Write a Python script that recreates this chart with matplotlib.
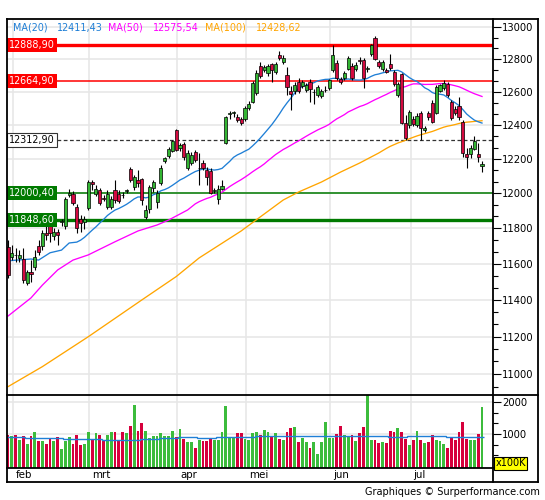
import numpy as np
import matplotlib
matplotlib.use('Agg')
import matplotlib.pyplot as plt
import matplotlib.transforms as mtransforms
from matplotlib.ticker import FixedLocator, NullFormatter, FuncFormatter
from matplotlib.lines import Line2D

# ---------------- data ----------------
opens = [11695, 11638, 11651, 11633, 11627, 11494, 11555, 11583, 11700, 11700,
         11773, 11813, 11756, 11779, 11834, 11813, 11990, 11996, 11922, 11853,
         11836, 11916, 12065, 11996, 12019, 11970, 11922, 11922, 12019, 11996,
         11992, 12011, 12141, 12036, 12077, 12083, 11864, 11910, 12031, 11950,
         12060, 12188, 12217, 12247, 12371, 12265, 12288, 12147, 12176, 12241,
         12145, 12176, 12135, 12129, 12011, 11968, 12025, 12294, 12464, 12470,
         12449, 12437, 12437, 12503, 12539, 12593, 12758, 12733, 12715, 12770,
         12721, 12826, 12783, 12703, 12605, 12605, 12660, 12636, 12611, 12660,
         12597, 12581, 12575, 12609, 12624, 12733, 12777, 12678, 12684, 12740,
         12758, 12740, 12798, 12795, 12737, 12832, 12931, 12783, 12740, 12733,
         12770, 12721, 12581, 12709, 12413, 12401, 12437, 12401, 12473, 12371,
         12473, 12533, 12473, 12605, 12624, 12648, 12539, 12497, 12515, 12419,
         12229, 12229, 12259, 12229, 12159]
closes = [11538, 11660, 11647, 11649, 11510, 11555, 11544, 11638, 11666, 11773,
          11762, 11773, 11779, 11762, 11838, 11968, 12002, 11945, 11802, 11830,
          11853, 12065, 12054, 12025, 11945, 11965, 11996, 11968, 11962, 11956,
          11988, 12016, 12077, 12094, 12060, 11962, 11904, 12036, 12065, 12002,
          12147, 12206, 12259, 12306, 12253, 12282, 12212, 12235, 12223, 12194,
          12149, 12147, 12094, 12002, 12016, 12025, 12042, 12449, 12470, 12476,
          12431, 12413, 12503, 12527, 12654, 12715, 12697, 12752, 12758, 12733,
          12770, 12807, 12807, 12630, 12587, 12642, 12605, 12660, 12642, 12617,
          12601, 12630, 12605, 12613, 12672, 12826, 12684, 12660, 12715, 12807,
          12684, 12764, 12792, 12684, 12743, 12887, 12801, 12758, 12783, 12721,
          12746, 12648, 12648, 12413, 12324, 12479, 12407, 12455, 12383, 12383,
          12449, 12419, 12630, 12642, 12654, 12581, 12443, 12473, 12449, 12235,
          12212, 12265, 12306, 12212, 12171]
highs = [11734, 11706, 11689, 11677, 11689, 11566, 11622, 11677, 11734, 11790,
         11836, 11830, 11802, 11796, 11853, 11979, 12025, 12013, 11939, 11876,
         11870, 12077, 12077, 12048, 12031, 11990, 12019, 11985, 12077, 12019,
         12008, 12025, 12153, 12106, 12135, 12089, 11933, 12048, 12077, 12019,
         12165, 12212, 12270, 12312, 12377, 12294, 12300, 12253, 12241, 12253,
         12235, 12194, 12153, 12147, 12031, 12048, 12077, 12455, 12485, 12485,
         12467, 12449, 12515, 12545, 12666, 12733, 12783, 12764, 12770, 12777,
         12783, 12850, 12826, 12752, 12636, 12660, 12684, 12672, 12654, 12678,
         12617, 12642, 12617, 12636, 12678, 12887, 12795, 12690, 12727, 12820,
         12777, 12783, 12813, 12807, 12758, 12893, 12943, 12795, 12795, 12746,
         12832, 12733, 12660, 12715, 12461, 12491, 12455, 12473, 12485, 12395,
         12485, 12551, 12642, 12648, 12672, 12660, 12551, 12515, 12569, 12431,
         12265, 12282, 12335, 12294, 12188]
lows = [11521, 11622, 11611, 11611, 11494, 11483, 11499, 11566, 11649, 11677,
        11734, 11723, 11734, 11706, 11813, 11796, 11979, 11933, 11773, 11779,
        11796, 11904, 12019, 11985, 11933, 11956, 11910, 11910, 11945, 11945,
        11973, 12002, 12065, 12019, 12036, 11933, 11853, 11887, 12008, 11916,
        12048, 12176, 12206, 12241, 12247, 12247, 12194, 12135, 12165, 12182,
        12048, 12135, 12048, 11996, 12002, 11939, 12019, 12288, 12437, 12449,
        12419, 12401, 12425, 12491, 12533, 12581, 12684, 12721, 12697, 12660,
        12709, 12795, 12770, 12581, 12491, 12587, 12593, 12624, 12599, 12539,
        12527, 12569, 12563, 12599, 12611, 12721, 12672, 12648, 12672, 12733,
        12672, 12727, 12770, 12624, 12721, 12820, 12795, 12746, 12727, 12715,
        12733, 12636, 12569, 12407, 12312, 12383, 12395, 12389, 12312, 12359,
        12431, 12413, 12467, 12599, 12611, 12569, 12431, 12461, 12431, 12212,
        12147, 12206, 12253, 12182, 12124]
volumes = [980, 950, 980, 820, 950, 700, 950, 1070, 770, 770,
           700, 840, 770, 920, 540, 770, 920, 700, 980, 650,
           700, 1070, 840, 1020, 980, 770, 980, 1070, 1070, 770,
           1070, 1040, 1260, 1920, 1100, 1350, 1100, 880, 950, 930,
           1030, 930, 950, 1100, 920, 1160, 840, 740, 740, 560,
           820, 770, 770, 880, 820, 820, 1070, 1890, 910, 910,
           1030, 1020, 840, 800, 1030, 1070, 980, 1140, 1070, 930,
           1030, 840, 800, 1070, 1190, 1220, 740, 880, 740, 560,
           740, 385, 740, 1385, 880, 880, 1010, 1260, 980, 950,
           980, 770, 1030, 1220, 2300, 800, 800, 720, 740, 720,
           1100, 1070, 1180, 1050, 840, 670, 820, 1100, 800, 720,
           740, 980, 820, 770, 700, 550, 910, 800, 1050, 1365,
           840, 800, 800, 1010, 1830]
# weekly average volume (one value per 5 sessions)
vol_avg = [896, 870, 865, 850, 835, 823, 800, 850, 880, 906, 880, 900, 917,
           935, 948, 948, 948, 948, 950, 940, 920, 948, 935, 910, 910]

# moving averages: values read before the first full window
ma20_head_idx = [0, 6, 8, 11, 14, 16, 18]
ma20_head = [11616, 11626, 11620, 11661, 11676, 11716, 11721]
ma50_head_idx = [0, 6, 9, 13, 17, 21, 28, 34, 39, 42, 47]
ma50_head = [11311, 11410, 11481, 11565, 11620, 11649, 11723, 11784, 11818, 11846, 11904]
ma100_head_idx = [0, 9, 21, 35, 44, 50, 61, 72, 76, 82, 87, 92, 97]
ma100_head = [10933, 11039, 11199, 11399, 11528, 11632, 11784, 11961, 12007, 12065,
              12123, 12176, 12235]
ma_names = ['MA(20)', 'MA(50)', 'MA(100)']
ma_last = [12411.43, 12575.54, 12428.62]

level_values = [12888.90, 12664.90, 12312.90, 12000.40, 11848.60]

month_labels = ['feb', 'mrt', 'apr', 'mei', 'jun', 'jul']
month_start = [1, 21, 44, 62, 84, 105]

price_ticks = list(range(11000, 13001, 200))
vol_ticks = [1000, 2000]

# ---------------- styling ----------------
C_UP = '#3cbc3c'
C_DN = '#d6003c'
C_MA = ['#1f7fd6', '#ff00ff', '#ffa500']
GRID = '#e6e6e6'

W, H = 545, 500
fig = plt.figure(figsize=(W / 100, H / 100), dpi=100)


def fx(px):
    return px / W


def fy(py):
    return 1 - py / H


L, R = 7, 493
T_MAIN, B_MAIN, B_VOL = 19, 395, 468
ax = fig.add_axes([fx(L), fy(B_MAIN), (R - L) / W, (B_MAIN - T_MAIN) / H])
axv = fig.add_axes([fx(L), fy(B_VOL), (R - L) / W, (B_VOL - B_MAIN) / H])

n = len(closes)
x = np.arange(n)
o = np.array(opens, float)
c = np.array(closes, float)
h = np.array(highs, float)
lo = np.array(lows, float)
up = c >= o

s = (482 - 8) / (n - 1)
xl = (-(8 - L) / s, (n - 1) + (R - 482) / s)

# ---- main price panel ----
ax.set_yscale('log')
ymax = 13000 * np.exp((27 - T_MAIN) / 2077)
ymin = 13000 * np.exp(-(B_MAIN - 27) / 2077)
ax.set_ylim(ymin, ymax)
ax.set_xlim(*xl)

for v in price_ticks:
    ax.axhline(v, color=GRID, lw=1.1, zorder=0)
for m in month_start:
    ax.axvline(m + 0.3, color=GRID, lw=1.1, zorder=0)
    axv.axvline(m + 0.3, color=GRID, lw=1.1, zorder=0)

# levels
ax.axhline(level_values[0], color='#ff0000', lw=2.4, zorder=2)
ax.axhline(level_values[1], color='#ff0000', lw=1.1, zorder=2)
ax.axhline(level_values[2], color='#333333', lw=0.9, ls=(0, (3, 2)), zorder=2)
ax.axhline(level_values[3], color='#007a00', lw=1.1, zorder=2)
ax.axhline(level_values[4], color='#007a00', lw=2.4, zorder=2)

# moving averages
def rolling(vals, w):
    a = np.asarray(vals, float)
    cs = np.cumsum(np.insert(a, 0, 0.0))
    return (cs[w:] - cs[:-w]) / w

for heads_idx, heads, w, col in [(ma100_head_idx, ma100_head, 100, C_MA[2]),
                                 (ma50_head_idx, ma50_head, 50, C_MA[1]),
                                 (ma20_head_idx, ma20_head, 20, C_MA[0])]:
    comp = rolling(closes, w)
    xs = list(heads_idx) + list(range(w - 1, n))
    ys = list(heads) + list(comp)
    ax.plot(xs, ys, color=col, lw=0.95, zorder=3)

# candles
ax.vlines(x, lo, h, color='black', lw=0.8, zorder=4)
bw = 0.82
bottoms = np.minimum(o, c)
heights = np.maximum(np.abs(c - o), 1.0)
ax.bar(x, heights, bottom=bottoms, width=bw,
       color=np.where(up, '#33b533', '#d40a40'), edgecolor='black',
       linewidth=0.5, zorder=5)

# level labels
trans = mtransforms.blended_transform_factory(ax.transAxes, ax.transData)
lab_style = [('#ff0000', 'white', 'none'), ('#ff0000', 'white', 'none'),
             ('white', 'black', '#333333'), ('#007a00', 'white', 'none'),
             ('#007a00', 'white', 'none')]
for v, (bg, fg, ec) in zip(level_values, lab_style):
    ax.text(0.004, v, f'{v:.2f}'.replace('.', ','), transform=trans,
            ha='left', va='center', color=fg, fontsize=6.9, zorder=8,
            bbox=dict(boxstyle='square,pad=0.22', fc=bg, ec=ec, lw=0.8))

ax.yaxis.tick_right()
ax.yaxis.set_major_locator(FixedLocator(price_ticks))
minor_p = [11000 + k * 200 / 3 for k in range(-1, 32) if k % 3 != 0]
ax.yaxis.set_minor_locator(FixedLocator(minor_p))
ax.yaxis.set_major_formatter(FuncFormatter(lambda v, p: f'{int(round(v))}'))
ax.yaxis.set_minor_formatter(NullFormatter())
ax.tick_params(axis='y', which='major', length=5.5, width=0.8, labelsize=7.2, pad=1)
ax.tick_params(axis='y', which='minor', length=3.5, width=0.8)
ax.set_xticks([])
for sp in ax.spines.values():
    sp.set_visible(False)

# ---- volume panel ----
vmin, vmax = -62, 2220
axv.set_xlim(*xl)
axv.set_ylim(vmin, vmax)
for v in vol_ticks:
    axv.axhline(v, color=GRID, lw=1.1, zorder=0)
vol = np.array(volumes, float)
axv.bar(x, vol - vmin, bottom=vmin, width=0.74,
        color=np.where(up, C_UP, C_DN), linewidth=0, zorder=2)
edges = np.arange(0, n + 1, 5) - 0.5
axv.stairs(vol_avg, edges, baseline=None, color=C_MA[0], lw=1.0, zorder=3)
axv.yaxis.tick_right()
axv.yaxis.set_major_locator(FixedLocator(vol_ticks))
axv.yaxis.set_minor_locator(FixedLocator([1000 / 3, 2000 / 3, 4000 / 3, 5000 / 3]))
axv.yaxis.set_major_formatter(FuncFormatter(lambda v, p: f'{int(v)}'))
axv.tick_params(axis='y', which='major', length=5.5, width=0.8, labelsize=7.2, pad=1)
axv.tick_params(axis='y', which='minor', length=3.5, width=0.8)
axv.set_xticks([])
for sp in axv.spines.values():
    sp.set_visible(False)

transv = mtransforms.blended_transform_factory(axv.transData, axv.transAxes)
for lab, m in zip(month_labels, month_start):
    axv.text(m + 1.0, -(475 - B_VOL) / (B_VOL - B_MAIN), lab, transform=transv,
             ha='left', va='center', fontsize=7.4, color='black')

# ---- frame lines ----
def fline(x0, y0, x1, y1, lw=1.3):
    fig.add_artist(Line2D([fx(x0), fx(x1)], [fy(y0), fy(y1)], color='black',
                          lw=lw, transform=fig.transFigure, zorder=10))

fline(7, 19, 538, 19)
fline(7, 482, 538, 482)
fline(7, 19, 7, 482)
fline(538, 19, 538, 482)
fline(493, 19, 493, 482)
fline(7, 395, 538, 395)
fline(7, 468, 493, 468)

# legend
leg_x = [13, 57, 108, 153, 205, 256]
for k in range(3):
    fig.text(fx(leg_x[2 * k]), fy(28), ma_names[k], color=C_MA[k],
             fontsize=6.9, ha='left', va='center')
    fig.text(fx(leg_x[2 * k + 1]), fy(28), f'{ma_last[k]:.2f}'.replace('.', ','),
             color=C_MA[k], fontsize=6.9, ha='left', va='center')

fig.text(fx(510.5), fy(463.5), 'x100K', ha='center', va='center', fontsize=7,
         bbox=dict(boxstyle='square,pad=0.15', fc='#ffff00', ec='black', lw=0.8),
         zorder=11)
fig.text(fx(540), fy(492), 'Graphiques \u00a9 Surperformance.com', ha='right',
         va='center', fontsize=7, color='black')

fig.savefig('out.png', dpi=100)
